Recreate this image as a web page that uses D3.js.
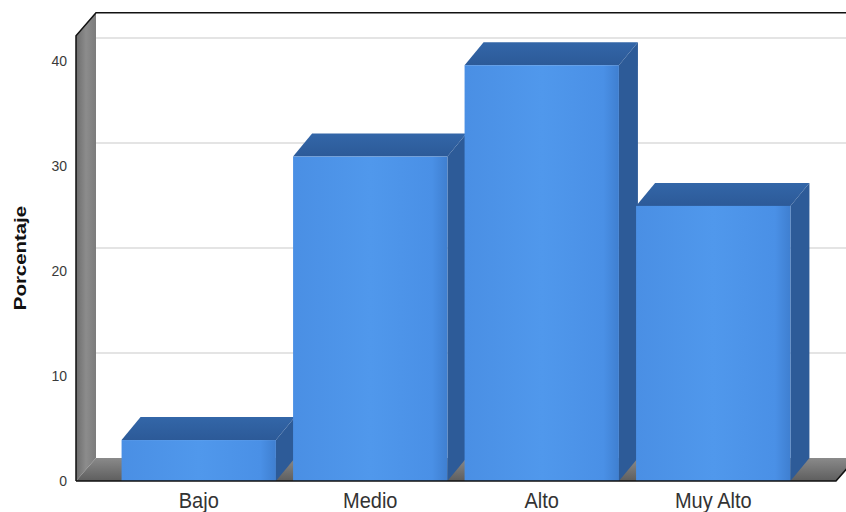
<!DOCTYPE html>
<html><head><meta charset="utf-8">
<script src="https://cdn.jsdelivr.net/npm/d3@7"></script>
<style>html,body{margin:0;padding:0;background:#fff;}svg{display:block;}</style>
</head><body>
<svg id="c" width="846" height="512"></svg>
<script>
const categories = ["Bajo", "Medio", "Alto", "Muy Alto"];
const values = [3.9, 30.9, 39.6, 26.2];
const yTicks = [0, 10, 20, 30, 40];
const yTitle = "Porcentaje";

const svg = d3.select("#c");
const W = 846, H = 512;
const frontLeft = 76, frontRight = 836, yBase = 481;
const dx = 20, dy = -23;   // depth offset of the 3D box
const bdx = 19, bdy = -23; // depth offset of bars

const y = d3.scaleLinear().domain([0, 40]).range([yBase, 61]);
const yTopVal = 42.4;
const x = d3.scaleBand().domain(categories).range([113, 799]).paddingInner(0.1).paddingOuter(0.05);

const defs = svg.append("defs");
const gw = defs.append("linearGradient").attr("id","wall").attr("x1","0").attr("x2","1");
gw.append("stop").attr("offset","0").attr("stop-color","#6c6c6c");
gw.append("stop").attr("offset","0.5").attr("stop-color","#8c8c8c");
gw.append("stop").attr("offset","1").attr("stop-color","#7c7c7c");
const gf = defs.append("linearGradient").attr("id","floor").attr("x1","0").attr("x2","0").attr("y1","0").attr("y2","1");
gf.append("stop").attr("offset","0").attr("stop-color","#8a8a8a");
gf.append("stop").attr("offset","1").attr("stop-color","#5e5e5e");
const gb = defs.append("linearGradient").attr("id","front").attr("x1","0").attr("x2","1");
gb.append("stop").attr("offset","0").attr("stop-color","#4a8fe4");
gb.append("stop").attr("offset","0.5").attr("stop-color","#5098ec");
gb.append("stop").attr("offset","0.9").attr("stop-color","#4a90e6");
gb.append("stop").attr("offset","1").attr("stop-color","#3f7fd0");
const gt = defs.append("linearGradient").attr("id","top").attr("x1","0").attr("x2","0").attr("y1","0").attr("y2","1");
gt.append("stop").attr("offset","0").attr("stop-color","#3366a8");
gt.append("stop").attr("offset","1").attr("stop-color","#2c5a98");

const line = d3.line();

// back wall gridlines
svg.append("g").selectAll("line").data(yTicks.filter(t => t > 0)).join("line")
  .attr("x1", frontLeft + dx).attr("x2", W)
  .attr("y1", d => y(d) + dy).attr("y2", d => y(d) + dy)
  .attr("stroke", "#c9c9c9").attr("stroke-width", 1.2);

// left wall
svg.append("path")
  .attr("d", line([[frontLeft, yBase],[frontLeft, y(yTopVal)],[frontLeft+dx, y(yTopVal)+dy],[frontLeft+dx, yBase+dy]]) + "Z")
  .attr("fill", "url(#wall)");
// floor
svg.append("path")
  .attr("d", line([[frontLeft, yBase],[frontLeft+dx, yBase+dy],[frontRight+dx, yBase+dy],[frontRight, yBase]]) + "Z")
  .attr("fill", "url(#floor)");

// bars
const bars = svg.append("g").selectAll("g").data(categories).join("g");
bars.each(function(c, i) {
  const g = d3.select(this);
  const x0 = x(c), x1 = x(c) + x.bandwidth();
  const yt = y(values[i]), y0 = y(0);
  g.append("path").attr("d", line([[x1, yt],[x1+bdx, yt+bdy],[x1+bdx, y0+bdy],[x1, y0]]) + "Z")
    .attr("fill", "#2d5b98");
  g.append("path").attr("d", line([[x0, yt],[x0+bdx, yt+bdy],[x1+bdx, yt+bdy],[x1, yt]]) + "Z")
    .attr("fill", "url(#top)");
  g.append("rect").attr("x", x0).attr("y", yt).attr("width", x1 - x0).attr("height", y0 - yt)
    .attr("fill", "url(#front)");
});

// frame lines
const frame = svg.append("g").attr("stroke", "#111").attr("stroke-width", 1.5).attr("fill", "none");
frame.append("path").attr("d", line([[frontLeft, yBase],[frontLeft, y(yTopVal)],[frontLeft+dx, y(yTopVal)+dy],[W, y(yTopVal)+dy]]));
frame.append("path").attr("d", line([[frontLeft, yBase],[frontRight, yBase],[frontRight+dx, yBase+dy]]));

// y axis tick labels
svg.append("g").selectAll("text").data(yTicks).join("text")
  .attr("x", 67).attr("y", d => y(d)).attr("dy", "0.36em")
  .attr("text-anchor", "end").attr("font-family", "Arial, 'Liberation Sans', sans-serif")
  .attr("font-size", 14).attr("fill", "#3a3a3a").text(d => d);

// category labels
svg.append("g").selectAll("text").data(categories).join("text")
  .attr("transform", d => `translate(${x(d) + x.bandwidth()/2},508) scale(1,1.12)`)
  .attr("text-anchor", "middle").attr("font-family", "Arial, 'Liberation Sans', sans-serif")
  .attr("font-size", 20).attr("fill", "#333").text(d => d);

// y title
svg.append("text")
  .attr("transform", "translate(26,258) rotate(-90) scale(1.2,1)")
  .attr("text-anchor", "middle").attr("font-family", "Arial, 'Liberation Sans', sans-serif")
  .attr("font-weight", "bold").attr("font-size", 17).attr("fill", "#111").text(yTitle);
</script>
</body></html>
